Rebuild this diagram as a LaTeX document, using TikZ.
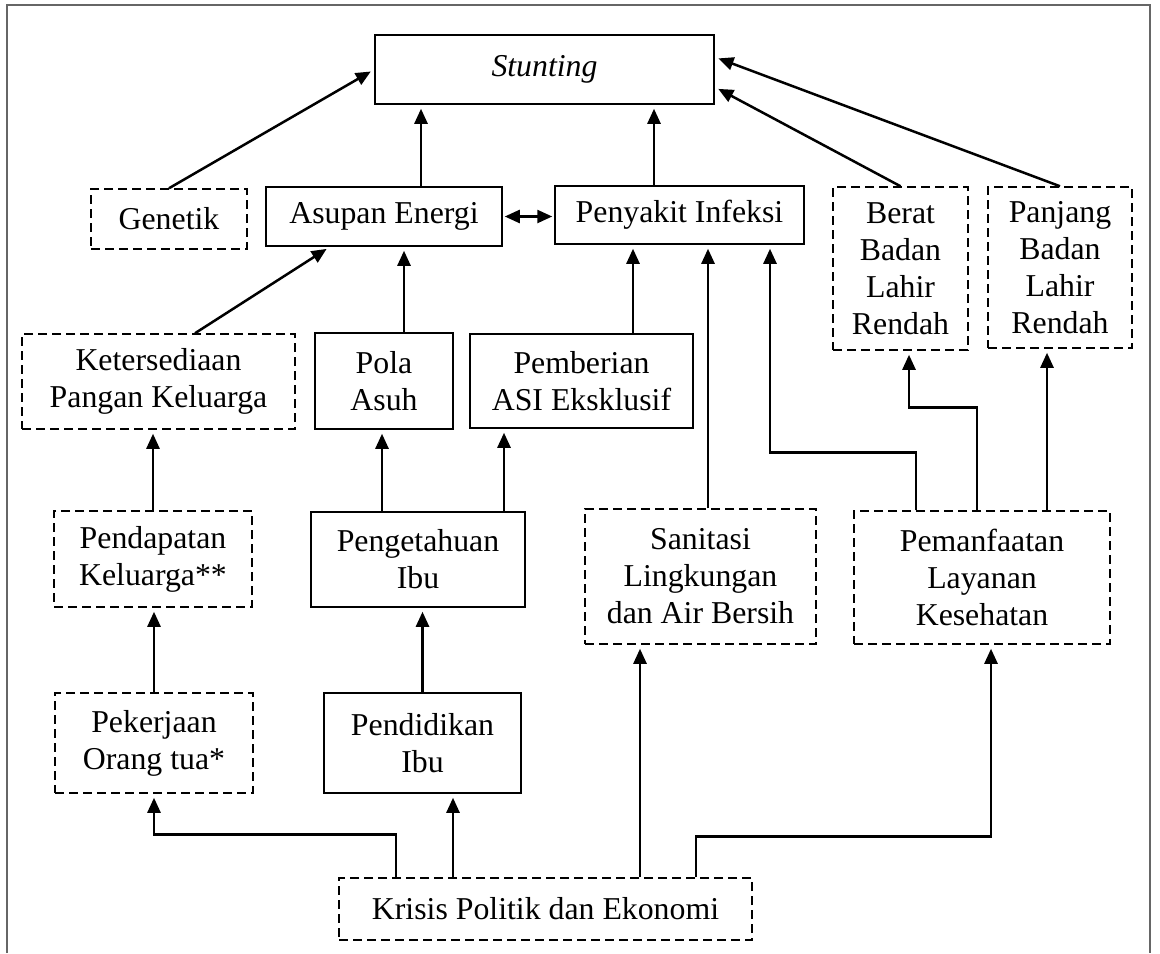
\documentclass[tikz,border=0pt]{standalone}
\usepackage{fontspec}
\setmainfont{Liberation Serif}
\usetikzlibrary{arrows.meta}
\tikzset{
  >={Triangle[length=7.5pt,width=6.5pt]},
  factor/.style={draw,line width=0.75pt,align=center,inner sep=0pt,
    font=\fontsize{15.9}{18.5}\selectfont},
  dfactor/.style={factor,dash pattern=on 4.5pt off 2.5pt},
  sz/.style 2 args={minimum width=#1*0.5pt,minimum height=#2*0.5pt},
  flow/.style={->,line width=1.25pt,shorten >=2pt},
}
\begin{document}
\begin{tikzpicture}[x=0.5pt,y=-0.5pt]
  \useasboundingbox (0,0) rectangle (1160,953);
  \draw[black!60,line width=0.8pt] (7,953) -- (7,5) -- (1150,5) -- (1150,953);
  % factors
  \node[factor,sz={339}{69}] (stunting) at (544.5,69.5) {\textit{Stunting}};
  \node[dfactor,sz={156}{60}] (genetik) at (169,219) {Genetik};
  \node[factor,sz={236}{59}] (asupan) at (384,216.5) {Asupan Energi};
  \node[factor,sz={249}{58}] (penyakit) at (679.5,215) {Penyakit Infeksi};
  \node[dfactor,sz={135}{163}] (berat) at (900.5,268.5) {Berat\\Badan\\Lahir\\Rendah};
  \node[dfactor,sz={144}{161}] (panjang) at (1060,267.5) {Panjang\\Badan\\Lahir\\Rendah};
  \node[dfactor,sz={273}{95}] (ketersediaan) at (158.5,381.5) {Ketersediaan\\Pangan Keluarga};
  \node[factor,sz={138}{96}] (pola) at (384,381) {Pola\\Asuh};
  \node[factor,sz={223}{94}] (pemberian) at (581.5,381) {Pemberian\\ASI Eksklusif};
  \node[dfactor,sz={198}{96}] (pendapatan) at (153,559) {Pendapatan\\Keluarga**};
  \node[factor,sz={214}{95}] (pengetahuan) at (418,559.5) {Pengetahuan\\Ibu};
  \node[dfactor,sz={231}{135}] (sanitasi) at (700.5,576.5) {Sanitasi\\Lingkungan\\dan Air Bersih};
  \node[dfactor,sz={256}{133}] (pemanfaatan) at (982,577.5) {Pemanfaatan\\Layanan\\Kesehatan};
  \node[dfactor,sz={198}{100}] (pekerjaan) at (154,743) {Pekerjaan\\Orang tua*};
  \node[factor,sz={197}{100}] (pendidikan) at (422.5,743) {Pendidikan\\Ibu};
  \node[dfactor,sz={413}{62}] (krisis) at (545.5,909) {Krisis Politik dan Ekonomi};
  % into stunting
  \draw[flow] (genetik.north) -- (stunting.west);
  \draw[flow] ([xshift=18.5pt]asupan.north) -- ([xshift=18.5pt]asupan.north |- stunting.south);
  \draw[flow] ([xshift=-12.75pt]penyakit.north) -- ([xshift=-12.75pt]penyakit.north |- stunting.south);
  \draw[flow] (berat.north) -- ([yshift=-8.75pt]stunting.east);
  \draw[flow] (panjang.north) -- ([yshift=6.25pt]stunting.east);
  \draw[<->,line width=1.25pt,shorten >=1pt,shorten <=1pt] (asupan.east) -- (asupan.east -| penyakit.west);
  % second row
  \draw[flow] ([xshift=18.25pt]ketersediaan.north) -- ([xshift=-27pt]asupan.south);
  \draw[flow] ([xshift=10pt]pola.north) -- ([xshift=10pt]pola.north |- asupan.south);
  \draw[flow] ([xshift=25.75pt]pemberian.north) -- ([xshift=25.75pt]pemberian.north |- penyakit.south);
  \draw[flow] ([xshift=3.75pt]sanitasi.north) -- ([xshift=3.75pt]sanitasi.north |- penyakit.south);
  \draw[flow] ([xshift=-33pt]pemanfaatan.north) -- ++(0,-58) -| ([xshift=45.25pt]penyakit.south);
  \draw[flow] ([xshift=-2.5pt]pemanfaatan.north) -- ++(0,-103) -| ([xshift=4.25pt]berat.south);
  \draw[flow] ([xshift=32.5pt]pemanfaatan.north) -- ([xshift=32.5pt]pemanfaatan.north |- panjang.south);
  % lower rows
  \draw[flow] (pendapatan.north) -- (pendapatan.north |- ketersediaan.south);
  \draw[flow] ([xshift=-18pt]pengetahuan.north) -- ([xshift=-18pt]pengetahuan.north |- pola.south);
  \draw[flow] ([xshift=43pt]pengetahuan.north) -- ([xshift=43pt]pengetahuan.north |- pemberian.south);
  \draw[flow] (pekerjaan.north) -- (pekerjaan.north |- pendapatan.south);
  \draw[flow] (pendidikan.north) -- (pendidikan.north |- pengetahuan.south);
  % from krisis
  \draw[flow] ([xshift=-74.75pt]krisis.north) -- ++(0,-43) -| (pekerjaan.south);
  \draw[flow] ([xshift=-46.25pt]krisis.north) -- ([xshift=-46.25pt]krisis.north |- pendidikan.south);
  \draw[flow] ([xshift=47.25pt]krisis.north) -- ([xshift=47.25pt]krisis.north |- sanitasi.south);
  \draw[flow] ([xshift=75.25pt]krisis.north) -- ++(0,-41) -| ([xshift=4.5pt]pemanfaatan.south);
\end{tikzpicture}
\end{document}
